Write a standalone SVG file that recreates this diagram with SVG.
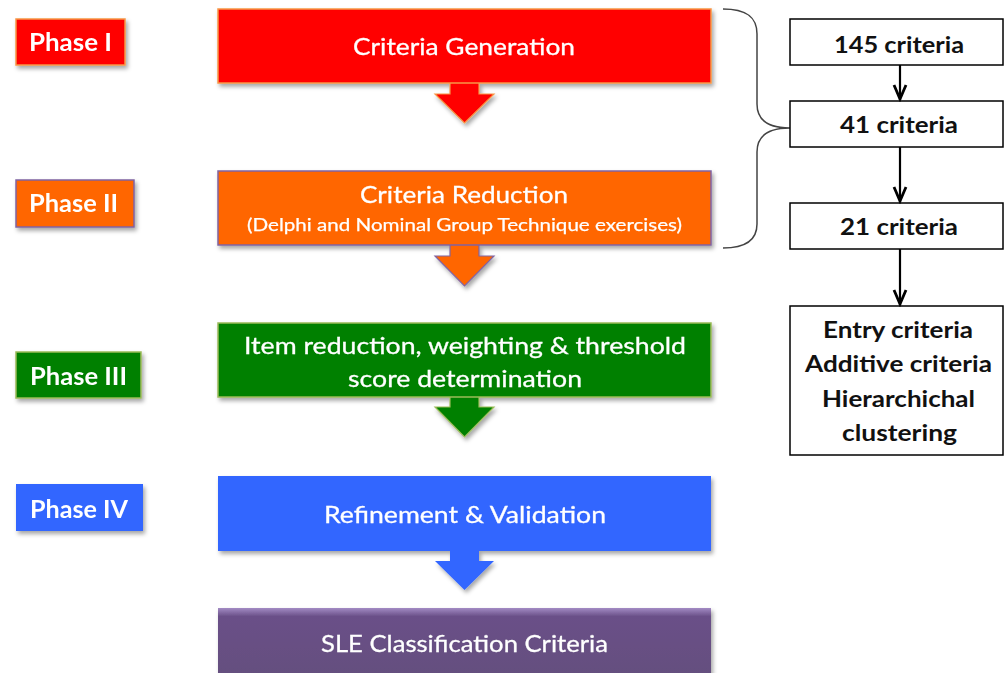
<svg xmlns="http://www.w3.org/2000/svg" width="1005" height="673" viewBox="0 0 1005 673">
<defs>
<filter id="sh" x="-10%" y="-10%" width="125%" height="140%">
<feDropShadow dx="2" dy="3" stdDeviation="2" flood-color="#000" flood-opacity="0.35"/>
</filter>
<linearGradient id="pg" x1="0" y1="0" x2="0" y2="1">
<stop offset="0" stop-color="#A38BC4"/>
<stop offset="0.12" stop-color="#6A5088"/>
<stop offset="1" stop-color="#64507E"/>
</linearGradient>
<marker id="ah" markerWidth="20" markerHeight="18" refX="18" refY="9" orient="auto" markerUnits="userSpaceOnUse" viewBox="0 0 20 18">
<path d="M3,3 L17,9 L3,15" fill="none" stroke="#000" stroke-width="2.8" stroke-linejoin="miter"/>
</marker>
</defs>
<style>
.ph{font-family:Lato,"Open Sans","Liberation Sans",sans-serif;font-weight:bold;font-size:25px;fill:#fff;}
.mt{font-family:Lato,"Open Sans","Liberation Sans",sans-serif;font-size:24px;fill:#fff;stroke:#fff;stroke-width:0.3;}
.st{font-family:Lato,"Open Sans","Liberation Sans",sans-serif;font-size:18px;fill:#fff;stroke:#fff;stroke-width:0.25;}
.rt{font-family:Lato,"Open Sans","Liberation Sans",sans-serif;font-weight:bold;font-size:22px;fill:#111;}
.rb{fill:#fff;stroke:#000;stroke-width:1.5;}
.con{fill:none;stroke:#000;stroke-width:2.2;}
</style>

<g id="phase1" filter="url(#sh)">
<rect x="16" y="19" width="109" height="46" fill="#FF0000" stroke="#F79646" stroke-width="1.5"/>
<text class="ph" x="29" y="51" textLength="83" lengthAdjust="spacingAndGlyphs">Phase I</text>
</g>
<g id="phase2" filter="url(#sh)">
<rect x="16" y="180" width="118" height="47" fill="#FF6600" stroke="#8064A2" stroke-width="1.5"/>
<text class="ph" x="29" y="212" textLength="89" lengthAdjust="spacingAndGlyphs">Phase II</text>
</g>
<g id="phase3" filter="url(#sh)">
<rect x="16" y="352" width="125" height="46" fill="#008000" stroke="#9BBB59" stroke-width="1.5"/>
<text class="ph" x="30" y="385" textLength="97" lengthAdjust="spacingAndGlyphs">Phase III</text>
</g>
<g id="phase4" filter="url(#sh)">
<rect x="16" y="484" width="127" height="47" fill="#3366FF"/>
<text class="ph" x="30" y="518" textLength="98" lengthAdjust="spacingAndGlyphs">Phase IV</text>
</g>

<g id="gen" filter="url(#sh)">
<path d="M450,80 L479,80 L479,94 L494,94 L464.5,123 L435,94 L450,94 Z" fill="#FF0000" stroke="#F79646" stroke-width="1.2"/>
<rect x="218" y="9" width="493" height="74" fill="#FF0000" stroke="#F79646" stroke-width="1.5"/>
<text class="mt" x="353" y="55" textLength="222" lengthAdjust="spacingAndGlyphs">Criteria Generation</text>
</g>
<g id="red" filter="url(#sh)">
<path d="M450,242 L479,242 L479,256 L494,256 L464.5,286 L435,256 L450,256 Z" fill="#FF6600" stroke="#8064A2" stroke-width="1.2"/>
<rect x="218" y="171" width="493" height="74" fill="#FF6600" stroke="#8064A2" stroke-width="1.5"/>
<text class="mt" x="360" y="203" textLength="208" lengthAdjust="spacingAndGlyphs">Criteria Reduction</text>
<text class="st" x="247" y="231" textLength="435" lengthAdjust="spacingAndGlyphs">(Delphi and Nominal Group Technique exercises)</text>
</g>
<g id="item" filter="url(#sh)">
<path d="M450,394 L479,394 L479,407 L494,407 L464.5,437 L435,407 L450,407 Z" fill="#008000" stroke="#9BBB59" stroke-width="1.2"/>
<rect x="218" y="323" width="493" height="74" fill="#008000" stroke="#9BBB59" stroke-width="1.5"/>
<text class="mt" x="244" y="354" textLength="442" lengthAdjust="spacingAndGlyphs">Item reduction, weighting &amp; threshold</text>
<text class="mt" x="348" y="387" textLength="234" lengthAdjust="spacingAndGlyphs">score determination</text>
</g>
<g id="refine" filter="url(#sh)">
<path d="M450,548 L479,548 L479,561 L494,561 L464.5,590 L435,561 L450,561 Z" fill="#3366FF"/>
<rect x="218" y="476" width="493" height="75" fill="#3366FF"/>
<text class="mt" x="324" y="523" textLength="282" lengthAdjust="spacingAndGlyphs">Refinement &amp; Validation</text>
</g>
<g id="sle" filter="url(#sh)">
<rect x="218" y="608" width="493" height="70" fill="url(#pg)"/>
<text class="mt" x="321" y="652" textLength="287" lengthAdjust="spacingAndGlyphs">SLE Classification Criteria</text>
</g>

<g id="brace">
<path d="M723,9 C745,9 757,16 757,34 L757,104 C757,120 768,128 790,128 C768,128 757,136 757,152 L757,224 C757,241 745,248 723,248" fill="none" stroke="#444" stroke-width="1.5"/>
</g>

<g id="c145">
<rect class="rb" x="790" y="19" width="213" height="46"/>
<text class="rt" x="834" y="53" textLength="130" lengthAdjust="spacingAndGlyphs">145 criteria</text>
</g>
<g id="c41">
<rect class="rb" x="790" y="101" width="213" height="46"/>
<text class="rt" x="840" y="133" textLength="118" lengthAdjust="spacingAndGlyphs">41 criteria</text>
</g>
<g id="c21">
<rect class="rb" x="790" y="203" width="213" height="46"/>
<text class="rt" x="840" y="235" textLength="118" lengthAdjust="spacingAndGlyphs">21 criteria</text>
</g>
<g id="final">
<rect class="rb" x="790" y="306" width="213" height="149"/>
<text class="rt" x="823" y="338" textLength="150" lengthAdjust="spacingAndGlyphs">Entry criteria</text>
<text class="rt" x="805" y="372" textLength="187" lengthAdjust="spacingAndGlyphs">Additive criteria</text>
<text class="rt" x="822" y="407" textLength="153" lengthAdjust="spacingAndGlyphs">Hierarchichal</text>
<text class="rt" x="842" y="441" textLength="115" lengthAdjust="spacingAndGlyphs">clustering</text>
</g>

<g id="connectors">
<line class="con" x1="900" y1="65" x2="900" y2="100" marker-end="url(#ah)"/>
<line class="con" x1="900" y1="147" x2="900" y2="202" marker-end="url(#ah)"/>
<line class="con" x1="900" y1="249" x2="900" y2="305" marker-end="url(#ah)"/>
</g>
</svg>
